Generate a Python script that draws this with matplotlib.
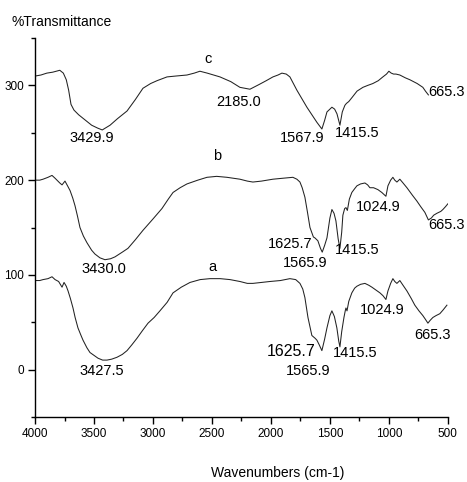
import numpy as np
import matplotlib
matplotlib.use('Agg')
import matplotlib.pyplot as plt
from matplotlib.ticker import MultipleLocator

plt.rcParams['font.family'] = 'Liberation Sans'
plt.rcParams['font.size'] = 10

# spectrum c (top)
wn_c = [3995, 3950, 3900, 3850, 3790, 3760, 3735, 3715, 3695, 3670, 3630, 3580, 3520, 3470, 3430,
        3364, 3300, 3220, 3150, 3085, 3020, 2966, 2881, 2800, 2712, 2650, 2602, 2540,
        2432, 2340, 2263, 2178, 2100, 2040, 1983, 1940, 1907, 1870, 1839, 1780, 1695,
        1610, 1568, 1545, 1525, 1483, 1460, 1440, 1415, 1395, 1373, 1360, 1340, 1314,
        1270, 1220, 1180, 1136, 1090, 1051, 1020, 1000, 980, 960, 940, 907, 860, 822,
        760, 712, 690, 665]
t_c = [310, 311, 313, 314, 316, 313, 306, 295, 280, 274, 269, 264, 258, 255, 253,
       258, 265, 273, 285, 297, 302, 305, 309, 310, 311, 313, 315, 313,
       309, 304, 298, 296, 301, 305, 309, 311, 313, 312, 309, 295, 277,
       261, 254, 263, 272, 277, 275, 270, 258, 272, 279, 281, 283, 287,
       294, 298, 300, 302, 305, 309, 312, 315, 313, 312, 312, 311, 308, 306,
       302, 298, 294, 290]

# spectrum b (middle)
wn_b = [3995, 3960, 3932, 3890, 3856, 3830, 3814, 3790, 3771, 3746, 3720, 3703, 3680,
        3661, 3640, 3619, 3590, 3560, 3520, 3492, 3450, 3407, 3360, 3322, 3260, 3212,
        3150, 3085, 3000, 2924, 2870, 2830, 2770, 2712, 2620, 2542, 2460, 2373, 2263,
        2200, 2153, 2080, 1983, 1900, 1814, 1780, 1754, 1735, 1712, 1690, 1669, 1640,
        1627, 1602, 1580, 1565, 1545, 1525, 1500, 1483, 1465, 1449, 1430, 1415, 1400,
        1390, 1375, 1364, 1352, 1335, 1314, 1290, 1271, 1240, 1203, 1180, 1161, 1130,
        1093, 1060, 1034, 1025, 1008, 985, 966, 950, 932, 907, 880, 847, 800, 763,
        730, 695, 665, 640, 620, 593, 560, 542, 520, 500]
t_b = [200, 200, 201, 203, 205, 202, 200, 197, 195, 199, 193, 189, 181,
       173, 162, 150, 141, 134, 126, 122, 118, 116, 117, 119, 124, 128,
       137, 147, 159, 170, 180, 187, 192, 196, 200, 203, 204, 203, 201,
       199, 198, 199, 201, 202, 203, 201, 198, 192, 182, 166, 150, 140,
       139, 136, 128, 124, 131, 139, 160, 169, 165, 157, 138, 128, 145,
       163, 170, 171, 168, 180, 187, 191, 194, 196, 197, 195, 192, 192,
       190, 187, 184, 183, 194, 200, 203, 200, 198, 201, 197, 192, 184, 178,
       172, 166, 158, 160, 163, 165, 167, 169, 172, 175]

# spectrum a (bottom)
wn_a = [3995, 3960, 3932, 3890, 3856, 3830, 3800, 3771, 3754, 3735, 3720, 3700, 3678,
        3660, 3636, 3610, 3593, 3560, 3534, 3500, 3466, 3427, 3390, 3350, 3305, 3260,
        3220, 3180, 3136, 3090, 3042, 2990, 2941, 2880, 2830, 2760, 2686, 2600, 2517,
        2430, 2347, 2263, 2200, 2153, 2080, 2008, 1920, 1839, 1790, 1754, 1730, 1712,
        1686, 1653, 1625, 1610, 1590, 1568, 1545, 1525, 1500, 1483, 1462, 1441, 1425,
        1415, 1400, 1381, 1370, 1364, 1355, 1340, 1314, 1290, 1271, 1240, 1203, 1170,
        1144, 1110, 1076, 1050, 1025, 1008, 985, 966, 950, 932, 907, 880, 847, 810,
        780, 745, 712, 690, 669, 650, 627, 600, 568, 540, 508]
t_a = [94, 94, 95, 96, 98, 95, 93, 87, 92, 88, 83, 75, 65,
       55, 44, 36, 31, 23, 18, 15, 12, 10, 10, 11, 13, 16,
       20, 26, 33, 41, 49, 55, 62, 71, 81, 87, 92, 95, 96,
       96, 95, 93, 91, 91, 92, 93, 94, 96, 95, 91, 85, 76,
       55, 36, 33, 31, 26, 20, 32, 44, 57, 62, 56, 44, 30,
       24, 40, 55, 62, 65, 62, 72, 81, 86, 88, 90, 91, 89,
       87, 84, 81, 78, 74, 83, 91, 96, 93, 91, 94, 89, 83, 75,
       68, 62, 57, 53, 49, 52, 55, 57, 59, 63, 68]

# peak annotations: (wavenumber, %T, text, fontsize)
peaks = [
    (2534, 328, 'c', 10.5), (3517, 245, '3429.9', 10.5), (2271, 282, '2185.0', 10.5),
    (1737, 245, '1567.9', 10.5), (1271, 250, '1415.5', 10.5), (508, 293, '665.3', 10.5),
    (2458, 226, 'b', 10.5), (3415, 106, '3430.0', 10.5), (1839, 133, '1625.7', 10.5),
    (1712, 112, '1565.9', 10.5), (1271, 126, '1415.5', 10.5), (1093, 172, '1024.9', 10.5),
    (508, 153, '665.3', 10.5),
    (2500, 108, 'a', 10.5), (3432, -1, '3427.5', 10.5), (1831, 19, '1625.7', 11.5),
    (1686, -1, '1565.9', 10.5), (1288, 17, '1415.5', 10.5), (1059, 63, '1024.9', 10.5),
    (627, 36, '665.3', 10.5),
]

fig = plt.figure(figsize=(4.67, 4.82), dpi=100)
ax = fig.add_axes([0.075, 0.135, 0.884, 0.786])

for wn, t in [(wn_a, t_a), (wn_b, t_b), (wn_c, t_c)]:
    ax.plot(wn, t, color='#222222', lw=0.75)

for x, y, s, fs in peaks:
    ax.text(x, y, s, ha='center', va='center', fontsize=fs)

ax.set_xlim(4000, 500)
ax.set_ylim(-50, 350)
ax.xaxis.set_major_locator(MultipleLocator(500))
ax.xaxis.set_minor_locator(MultipleLocator(250))
ax.yaxis.set_major_locator(MultipleLocator(100))
ax.yaxis.set_minor_locator(MultipleLocator(50))
ax.tick_params(which='major', length=5, width=1, labelsize=8.5, pad=3)
ax.tick_params(which='minor', length=3, width=1)
for side in ['top', 'right']:
    ax.spines[side].set_visible(False)
for side in ['left', 'bottom']:
    ax.spines[side].set_linewidth(1)

fig.text(12 / 467, 1 - 22.5 / 482, '%Transmittance', ha='left', va='center', fontsize=10)
fig.text(278 / 467, 9 / 482, 'Wavenumbers (cm-1)', ha='center', va='center', fontsize=10)

fig.savefig('out.png', dpi=100)
